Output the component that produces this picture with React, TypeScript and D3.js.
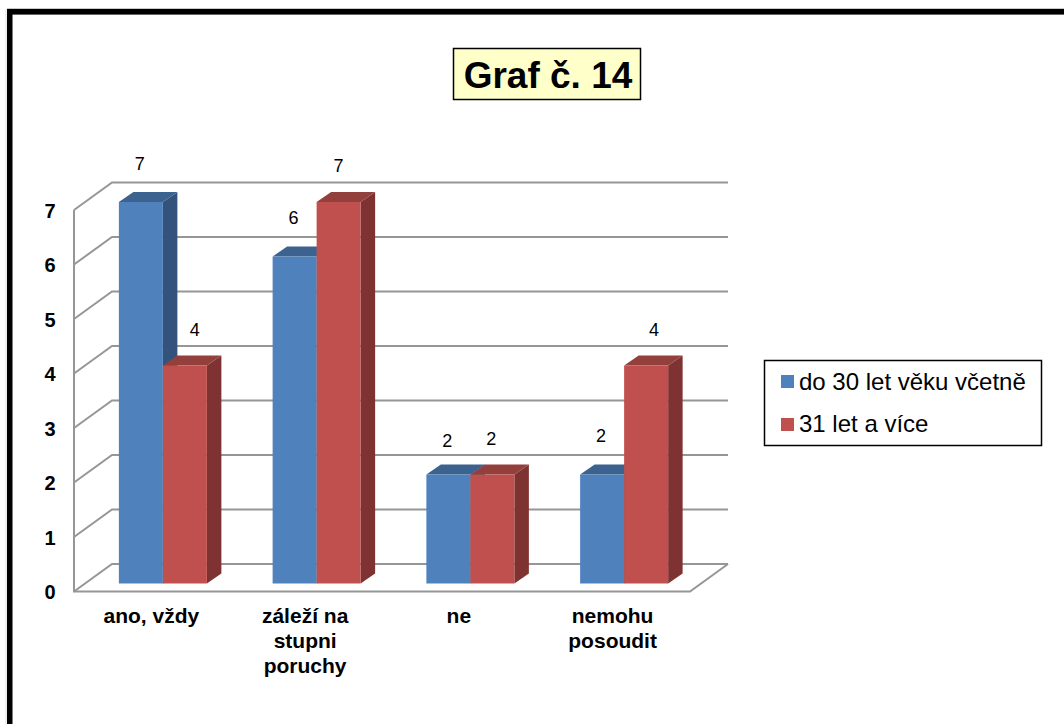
import React from "react";
import * as d3 from "d3";

const categories = ["ano, vždy", "záleží na|stupni|poruchy", "ne", "nemohu|posoudit"];
const series1 = [7, 6, 2, 2];
const series2 = [4, 7, 2, 4];
const seriesNames = ["do 30 let věku včetně", "31 let a více"];
const ticks = [0, 1, 2, 3, 4, 5, 6, 7];
// Value-label placement: shift along x from the bar's left edge, rise above its top face
const labelShift1 = [21, 21, 21, 21];
const labelShift2 = [32, 22, 21, 30];
const labelRise1 = [39, 39, 34, 39];
const labelRise2 = [36.5, 37, 36, 36.5];

const FONT = "Liberation Sans, Arial, sans-serif";
const palette = [
  { front: "#4f81bd", side: "#33537d", top: "#3c6290" },
  { front: "#c0504d", side: "#7e3231", top: "#93403d" },
];

export default function App() {
  const W = 1064, H = 724;
  const wallDx = 38, wallDy = 27.5;
  const barDx = 14.5, barDy = 10;
  const frontX0 = 74, frontX1 = 690;
  // Front plane of the floor and the shifted plane the bars stand on
  const yFront = d3.scaleLinear().domain([0, 7]).range([591.5, 210]);
  const yBar = d3.scaleLinear().domain([0, 7]).range([583.5, 202]);
  const band = d3.scaleBand<number>().domain(d3.range(categories.length)).range([86, 701]);
  const barW = 44;
  const centre = (i: number) => band(i)! + band.bandwidth() / 2;
  const barLeft = (i: number, idx: number) => centre(i) + (idx - 1) * barW;
  const bar = (i: number, vals: number[], idx: number) => {
    const c = palette[idx];
    const x0 = barLeft(i, idx);
    const x1 = x0 + barW;
    const yT = yBar(vals[i]);
    const yB = yBar(0);
    return (
      <g key={`${idx}-${i}`}>
        <path d={`M${x1},${yT}L${x1 + barDx},${yT - barDy}L${x1 + barDx},${yB - barDy}L${x1},${yB}Z`} fill={c.side} />
        <path d={`M${x0},${yT}L${x0 + barDx},${yT - barDy}L${x1 + barDx},${yT - barDy}L${x1},${yT}Z`} fill={c.top} />
        <rect x={x0} y={yT} width={barW} height={yB - yT} fill={c.front} />
      </g>
    );
  };
  const order = categories.map((_, i) => i);
  return (
    <svg width={W} height={H} style={{ position: "absolute", left: 0, top: 0 }} fontFamily={FONT}>
      <rect width={W} height={H} fill="#fff" />
      {/* Page frame: only the top and left rules fall inside the view */}
      <rect x={5} y={9} width={2.5} height={H - 9} fill="#eef1f4" />
      <rect x={7} y={8} width={W - 7} height={7} fill="#c8c8c8" />
      <rect x={7} y={9} width={5.5} height={H - 9} fill="#000" />
      <rect x={7} y={9} width={W - 7} height={5.5} fill="#000" />

      <rect x={453.5} y={48.5} width={187} height={51} fill="#ffffc9" stroke="#000" strokeWidth={1.5} />
      <text x={548} y={88} textAnchor="middle" fontSize={37} fontWeight={700}>Graf č. 14</text>

      {/* Walls and floor */}
      <g fill="none" stroke="#969696" strokeWidth={2}>
        {ticks.map(t => (
          <path key={t} d={`M${frontX0},${yFront(t)}L${frontX0 + wallDx},${yFront(t) - wallDy}L${frontX1 + wallDx},${yFront(t) - wallDy}`} />
        ))}
        <path d={`M${frontX0},${yFront(7)}L${frontX0},${yFront(0)}L${frontX1},${yFront(0)}L${frontX1 + wallDx},${yFront(0) - wallDy}`} />
      </g>

      {order.map(i => (
        <g key={i}>
          {bar(i, series1, 0)}
          {bar(i, series2, 1)}
        </g>
      ))}

      {ticks.map(t => (
        <text key={t} x={50} y={yFront(t) + 7.5} fontSize={20} fontWeight={700} textAnchor="middle">{t}</text>
      ))}

      {order.map(i => (
        <g key={i} fontSize={18}>
          <text x={barLeft(i, 0) + labelShift1[i]} y={yBar(series1[i]) - labelRise1[i] + 6.5} textAnchor="middle">{series1[i]}</text>
          <text x={barLeft(i, 1) + labelShift2[i]} y={yBar(series2[i]) - labelRise2[i] + 6.5} textAnchor="middle">{series2[i]}</text>
        </g>
      ))}

      {categories.map((c, i) => (
        <text key={c} textAnchor="middle" fontSize={21} fontWeight={700}>
          {c.split("|").map((line, k) => (
            <tspan key={k} x={centre(i) - 11.5} y={622.5 + k * 25}>{line}</tspan>
          ))}
        </text>
      ))}

      <rect x={764.5} y={360.5} width={277} height={85} fill="#fff" stroke="#000" strokeWidth={1.5} />
      {seriesNames.map((s, k) => (
        <g key={s}>
          <rect x={781} y={375 + k * 43} width={13} height={13} fill={palette[k].front} />
          <text x={799} y={390 + k * 42} fontSize={24}>{s}</text>
        </g>
      ))}
    </svg>
  );
}
